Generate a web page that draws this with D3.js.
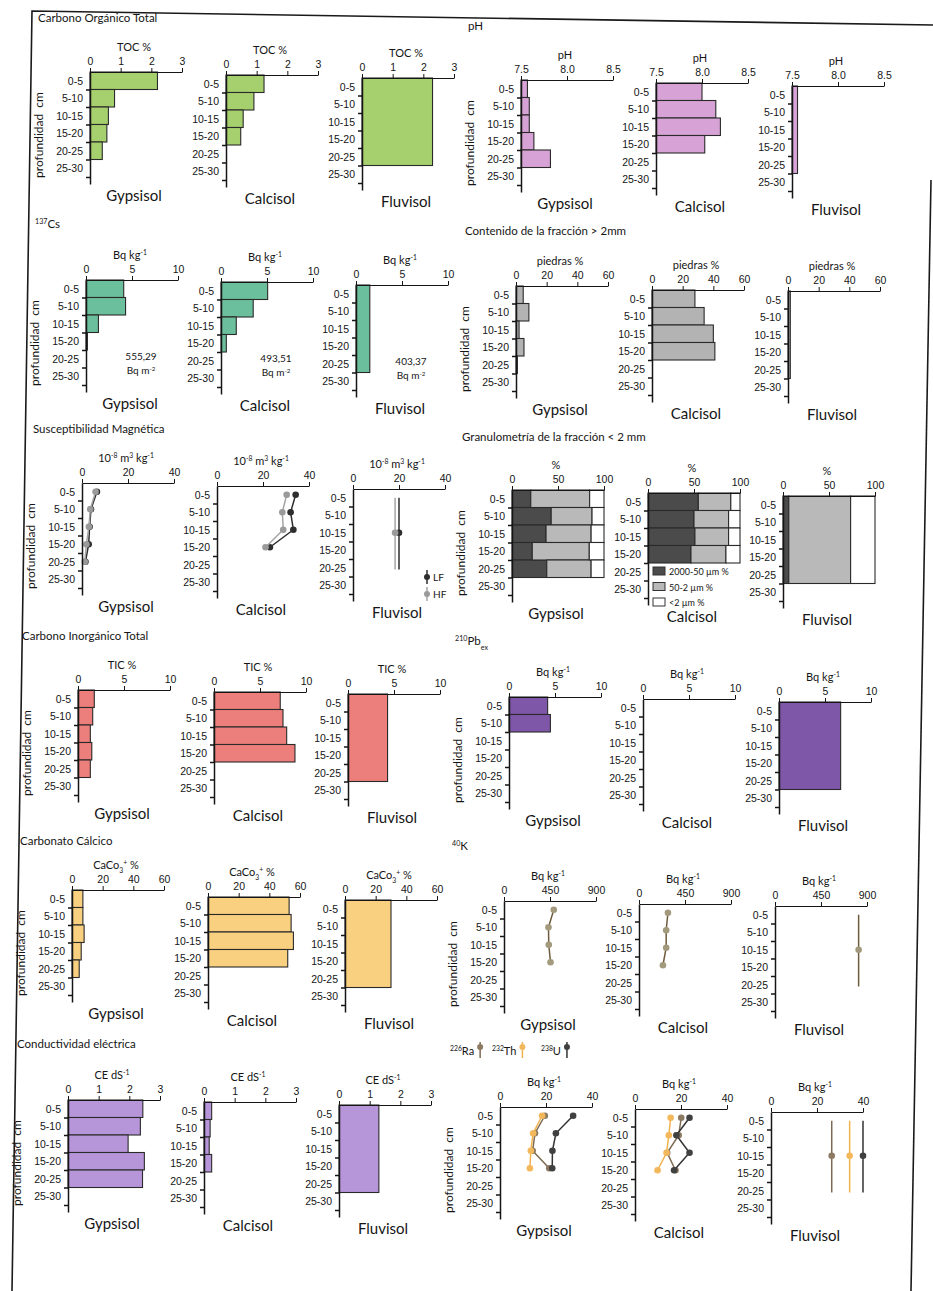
<!DOCTYPE html>
<html>
<head>
<meta charset="utf-8">
<script src="https://cdn.jsdelivr.net/npm/d3@7"></script>
<style>
  body { margin: 0; background: #fff; }
  svg { display: block; font-family: Lato, "Open Sans", sans-serif; }
</style>
</head>
<body>
<svg id="fig" width="933" height="1291"></svg>
<script>
// ---- shared categories
const soils = ["Gypsisol", "Calcisol", "Fluvisol"];
const depthLabels = ["0-5", "5-10", "10-15", "15-20", "20-25", "25-30"];
const depthBreaks = [0, 5, 10, 15, 20, 25, 30];
const fluvisolSpan = [0, 25];     // Fluvisol is one composite sample 0-25 cm
const fluvisolPoint = 12.5;
const fluvisolRange = [2.5, 23];

// ---- Carbono Orgánico Total (TOC %)
const tocTicks = [0, 1, 2, 3];
const tocGyp = [2.2, 0.8, 0.6, 0.55, 0.4];
const tocCal = [1.24, 0.91, 0.56, 0.48];
const tocFlu = [2.3];

// ---- pH
const phTicks = [7.5, 8.0, 8.5];
const phGyp = [7.57, 7.59, 7.59, 7.64, 7.82];
const phCal = [8.0, 8.15, 8.2, 8.03];
const phFlu = [7.56];

// ---- 137Cs (Bq kg-1) and inventory
const csTicks = [0, 5, 10];
const csGyp = [4.1, 4.3, 1.35, 0.15];
const csCal = [5.07, 3.5, 1.66, 0.58];
const csFlu = [1.5];
const csInventory = ["555,29", "493,51", "403,37"];

// ---- piedras % (> 2 mm)
const stoneTicks = [0, 20, 40, 60];
const stoneGyp = [4.7, 8.4, 2, 5.2, 0.9];
const stoneCal = [28, 34, 40, 41];
const stoneFlu = [1.5];

// ---- Susceptibilidad magnética (LF / HF)
const msTicks = [0, 20, 40];
const msLfGyp = [6.5, 3.9, 3.3, 2.9, 1.5];
const msHfGyp = [5.9, 3.6, 3.0, 1.9, 1.2];
const msLfCal = [34.2, 32, 33.2, 23];
const msHfCal = [30.3, 28.4, 28.8, 21.1];
const msLfFlu = [20];
const msHfFlu = [18.3];

// ---- Granulometría (< 2 mm)
const grainTicks = [0, 50, 100];
const grainClasses = ["2000-50 µm %", "50-2 µm %", "<2 µm %"];
const sandGyp = [20.4, 42.6, 37, 22, 37.8];
const siltGyp = [64, 44.4, 49, 62, 48.2];
const clayGyp = [15.6, 13, 14, 16, 14];
const sandCal = [54.7, 50, 51, 46.7];
const siltCal = [35.3, 37.6, 36.6, 38];
const clayCal = [10, 12.4, 12.4, 15.3];
const sandFlu = [6.3];
const siltFlu = [67.2];
const clayFlu = [26.5];

// ---- Carbono Inorgánico Total (TIC %)
const ticTicks = [0, 5, 10];
const ticGyp = [1.77, 1.6, 1.34, 1.5, 1.34];
const ticCal = [7.2, 7.5, 7.9, 8.8];
const ticFlu = [4.3];

// ---- 210Pb ex
const pbTicks = [0, 5, 10];
const pbGyp = [4.2, 4.5];
const pbCal = [];
const pbFlu = [6.7];

// ---- Carbonato cálcico
const caTicks = [0, 20, 40, 60];
const caGyp = [7.1, 7.1, 7.9, 6, 4.7];
const caCal = [52.9, 54.2, 55.7, 52];
const caFlu = [30];

// ---- 40K
const kTicks = [0, 450, 900];
const kGyp = [487, 435, 438, 455];
const kCal = [283, 266, 266, 234];
const kFlu = [818];

// ---- Conductividad eléctrica
const ceTicks = [0, 1, 2, 3];
const ceGyp = [2.44, 2.36, 1.96, 2.49, 2.43];
const ceCal = [0.25, 0.2, 0.17, 0.25];
const ceFlu = [1.3];

// ---- 226Ra / 232Th / 238U
const radTicks = [0, 20, 40];
const raGyp = [19.5, 15.2, 14.2, 21.4];
const thGyp = [18.3, 14.4, 13.4, 13];
const uGyp = [31.8, 24.3, 22.8, 22.7];
const raCal = [20.1, 19, 14, 17.6];
const thCal = [15.5, 14.7, 13.7, 9.8];
const uCal = [23.7, 18, 23.7, 17];
const raFlu = [26.4];
const thFlu = [34.2];
const uFlu = [40];

// ---- styles
const ink = "#151515";
const msColors = [{ pt: "#2e2e2e", ln: "#2e2e2e" }, { pt: "#9a9a9a", ln: "#a5a5a5" }];
const kColors = [{ pt: "#a39a7e", ln: "#6f5b3e" }];
const radColors = [{ pt: "#8d7a62", ln: "#7d6a52" }, { pt: "#f3b85c", ln: "#f1b24c" }, { pt: "#404040", ln: "#333" }];
const grainColors = ["#4b4b4b", "#b9b9b9", "#ffffff"];

const groups = [
  { title: [["Carbono Orgánico Total"]], tpos: [38, 22], label: [["TOC %"]], domain: [0, 3], ticks: tocTicks,
    kind: "bar", fill: "#a6d06e", data: [tocGyp, tocCal, tocFlu], pos: [[90, 72], [226, 75], [362, 78]] },
  { title: [["pH"]], tpos: [468, 30], label: [["pH"]], domain: [7.5, 8.5], ticks: phTicks, fmt: ".1f",
    kind: "bar", fill: "#d7a3d6", data: [phGyp, phCal, phFlu], pos: [[521, 80], [656, 83], [792, 86]] },
  { title: [["137", "sup"], ["Cs"]], tpos: [35, 228], label: [["Bq kg"], ["-1", "sup"]], domain: [0, 10], ticks: csTicks,
    kind: "bar", fill: "#6cbf9c", data: [csGyp, csCal, csFlu], pos: [[86, 280], [221, 282], [356, 285]], notes: csInventory },
  { title: [["Contenido de la fracción > 2mm"]], tpos: [465, 235], label: [["piedras %"]], domain: [0, 60], ticks: stoneTicks,
    kind: "bar", fill: "#b3b3b3", data: [stoneGyp, stoneCal, stoneFlu], pos: [[516, 286], [652, 290], [788, 291]] },
  { title: [["Susceptibilidad Magnética"]], tpos: [33, 433],
    label: [["10"], ["-8", "sup"], [" m"], ["3", "sup"], [" kg"], ["-1", "sup"]], domain: [0, 40], ticks: msTicks,
    kind: "points", colors: msColors, data: [[msLfGyp, msHfGyp], [msLfCal, msHfCal], [msLfFlu, msHfFlu]],
    pos: [[82, 483], [217, 486], [353, 489]], legend: "ms" },
  { title: [["Granulometría de la fracción < 2 mm"]], tpos: [462, 441], label: [["%"]], domain: [0, 100], ticks: grainTicks,
    kind: "stack", colors: grainColors, data: [[sandGyp, siltGyp, clayGyp], [sandCal, siltCal, clayCal], [sandFlu, siltFlu, clayFlu]],
    pos: [[512, 490], [648, 493], [783, 496]], legend: "grain" },
  { title: [["Carbono Inorgánico Total"]], tpos: [22, 640], label: [["TIC  %"]], domain: [0, 10], ticks: ticTicks,
    kind: "bar", fill: "#ec7f7b", data: [ticGyp, ticCal, ticFlu], pos: [[78, 690], [214, 692], [348, 694]] },
  { title: [["210", "sup"], ["Pb"], ["ex", "sub"]], tpos: [455, 645], label: [["Bq kg"], ["-1", "sup"]], domain: [0, 10], ticks: pbTicks,
    kind: "bar", fill: "#7e57a8", data: [pbGyp, pbCal, pbFlu], pos: [[509, 697], [643, 699], [779, 702]] },
  { title: [["Carbonato Cálcico"]], tpos: [20, 845], label: [["CaCo"], ["3", "sub"], ["+", "sup"], [" %"]], domain: [0, 60], ticks: caTicks,
    kind: "bar", fill: "#f9d080", data: [caGyp, caCal, caFlu], pos: [[72, 890], [208, 897], [345, 900]] },
  { title: [["40", "sup"], ["K"]], tpos: [452, 850], label: [["Bq kg"], ["-1", "sup"]], domain: [0, 900], ticks: kTicks,
    kind: "points", colors: kColors, data: [[kGyp], [kCal], [kFlu]], pos: [[504, 901], [639, 904], [775, 906]] },
  { title: [["Conductividad eléctrica"]], tpos: [17, 1048], label: [["CE  dS"], ["-1", "sup"]], domain: [0, 3], ticks: ceTicks,
    kind: "bar", fill: "#b795d9", data: [ceGyp, ceCal, ceFlu], pos: [[68, 1100], [204, 1102], [339, 1105]] },
  { title: null, label: [["Bq kg"], ["-1", "sup"]], domain: [0, 40], ticks: radTicks,
    kind: "points", colors: radColors, data: [[raGyp, thGyp, uGyp], [raCal, thCal, uCal], [raFlu, thFlu, uFlu]],
    pos: [[500, 1107], [635, 1109], [771, 1112]], legend: "rad" }
];

const plotW = 92;
const svg = d3.select("#fig");

// scanned page edges
svg.append("path").attr("d", "M933,25 L32,11 L12,1291")
  .attr("fill", "none").attr("stroke", "#1a1a1a").attr("stroke-width", 1.6);
svg.append("path").attr("d", "M931,180 L911,1291")
  .attr("fill", "none").attr("stroke", "#1a1a1a").attr("stroke-width", 1.6);

function rich(sel, parts) {
  parts.forEach(p => {
    const t = sel.append("tspan").text(p[0]);
    if (p[1] === "sup") t.attr("baseline-shift", "super").attr("font-size", "0.62em");
    if (p[1] === "sub") t.attr("baseline-shift", "sub").attr("font-size", "0.62em");
  });
  return sel;
}

function spans(values, i) {
  if (i === 2) return values.map(() => fluvisolSpan);
  return values.map((_, k) => [depthBreaks[k], depthBreaks[k + 1]]);
}

function mids(values, i) {
  if (i === 2) return values.map(() => fluvisolPoint);
  return values.map((_, k) => (depthBreaks[k] + depthBreaks[k + 1]) / 2);
}

function drawPlot(grp, i) {
  const [x0, top] = grp.pos[i];
  const g = svg.append("g");
  const x = d3.scaleLinear().domain(grp.domain).range([x0, x0 + plotW]);
  const y = d3.scaleLinear().domain([0, 32]).range([top, top + 112]);

  if (grp.kind === "bar") {
    const vals = grp.data[i];
    const sp = spans(vals, i);
    g.selectAll("rect.bar").data(vals).join("rect").attr("class", "bar")
      .attr("x", x(grp.domain[0]))
      .attr("y", (d, k) => y(sp[k][0]))
      .attr("width", d => x(d) - x(grp.domain[0]))
      .attr("height", (d, k) => y(sp[k][1]) - y(sp[k][0]))
      .attr("fill", grp.fill).attr("stroke", "#2a2a2a").attr("stroke-width", 1.1);
  }

  if (grp.kind === "stack") {
    const cols = grp.data[i];
    const sp = spans(cols[0], i);
    const rows = cols[0].map((_, k) => ({ sand: cols[0][k], silt: cols[1][k], clay: cols[2][k], d0: sp[k][0], d1: sp[k][1] }));
    const layers = d3.stack().keys(["sand", "silt", "clay"])(rows);
    layers.forEach((layer, li) => {
      g.selectAll(null).data(layer).join("rect")
        .attr("x", d => x(d[0]))
        .attr("width", d => x(d[1]) - x(d[0]))
        .attr("y", d => y(d.data.d0))
        .attr("height", d => y(d.data.d1) - y(d.data.d0))
        .attr("fill", grp.colors[li]).attr("stroke", "#2a2a2a").attr("stroke-width", 1.1);
    });
  }

  if (grp.kind === "points") {
    grp.data[i].forEach((vals, si) => {
      const col = grp.colors[si];
      const m = mids(vals, i);
      if (i === 2) {
        g.append("line")
          .attr("x1", x(vals[0])).attr("x2", x(vals[0]))
          .attr("y1", y(fluvisolRange[0])).attr("y2", y(fluvisolRange[1]))
          .attr("stroke", col.ln).attr("stroke-width", 1.5);
      } else {
        g.append("path")
          .attr("d", d3.line().x(d => x(d)).y((d, k) => y(m[k]))(vals))
          .attr("fill", "none").attr("stroke", col.ln).attr("stroke-width", 1.5);
      }
      g.selectAll(null).data(vals).join("circle")
        .attr("cx", d => x(d)).attr("cy", (d, k) => y(m[k]))
        .attr("r", 3.3).attr("fill", col.pt);
    });
  }

  // top value axis
  const fmt = grp.fmt ? d3.format(grp.fmt) : d3.format("d");
  const ax = g.append("g").attr("transform", `translate(0,${top})`)
    .call(d3.axisTop(x).tickValues(grp.ticks).tickSize(4).tickSizeOuter(0).tickPadding(3).tickFormat(fmt));
  ax.selectAll("text").attr("font-size", 10.5).attr("fill", ink);
  ax.selectAll("line,path").attr("stroke", ink);

  // depth axis
  const ay = g.append("g").attr("transform", `translate(${x(grp.domain[0])},0)`)
    .call(d3.axisLeft(y).tickValues(depthBreaks.slice(1)).tickSize(4).tickSizeOuter(0).tickFormat(""));
  ay.selectAll("line,path").attr("stroke", ink).attr("stroke-width", 1.5);

  const al = g.append("g").attr("transform", `translate(${x(grp.domain[0])},0)`)
    .call(d3.axisLeft(y).tickValues(depthLabels.map((_, k) => (depthBreaks[k] + depthBreaks[k + 1]) / 2))
      .tickSize(0).tickPadding(7).tickFormat((d, k) => depthLabels[k]));
  al.select(".domain").remove();
  al.selectAll("text").attr("font-size", 10.5).attr("fill", ink);

  // axis title
  rich(g.append("text").attr("x", x0 + plotW / 2 - 2).attr("y", top - 21)
    .attr("text-anchor", "middle").attr("font-size", 11).attr("fill", ink), grp.label);

  // soil name
  g.append("text").attr("x", x0 + 44).attr("y", top + 129)
    .attr("text-anchor", "middle").attr("font-size", 15).attr("fill", ink).text(soils[i]);

  if (i === 0) {
    g.append("text")
      .attr("transform", `translate(${x0 - 47},${top + 63}) rotate(-90)`)
      .attr("text-anchor", "middle").attr("font-size", 12).attr("fill", ink)
      .attr("xml:space", "preserve").text("profundidad  cm");
  }

  if (grp.notes) {
    g.append("text").attr("x", x0 + 55).attr("y", top + 80)
      .attr("text-anchor", "middle").attr("font-size", 10).attr("fill", ink).text(grp.notes[i]);
    rich(g.append("text").attr("x", x0 + 55).attr("y", top + 94)
      .attr("text-anchor", "middle").attr("font-size", 10).attr("fill", ink), [["Bq m"], ["-2", "sup"]]);
  }

  if (grp.legend === "ms" && i === 2) {
    ["LF", "HF"].forEach((name, k) => {
      const lx = x0 + 74, ly = top + 88 + k * 17;
      g.append("line").attr("x1", lx).attr("x2", lx).attr("y1", ly - 7).attr("y2", ly + 7)
        .attr("stroke", grp.colors[k].ln).attr("stroke-width", 1.5);
      g.append("circle").attr("cx", lx).attr("cy", ly).attr("r", 3).attr("fill", grp.colors[k].pt);
      g.append("text").attr("x", lx + 6).attr("y", ly + 4).attr("font-size", 10).attr("fill", ink).text(name);
    });
  }

  if (grp.legend === "grain" && i === 1) {
    grainClasses.forEach((name, k) => {
      const ly = top + 74 + k * 15.5;
      g.append("rect").attr("x", x0 + 5).attr("y", ly).attr("width", 12).attr("height", 8)
        .attr("fill", grp.colors[k]).attr("stroke", "#333");
      g.append("text").attr("x", x0 + 21).attr("y", ly + 8).attr("font-size", 9).attr("fill", ink).text(name);
    });
  }
}

groups.forEach(grp => {
  if (grp.title) {
    rich(svg.append("text").attr("x", grp.tpos[0]).attr("y", grp.tpos[1])
      .attr("font-size", 11.5).attr("fill", ink), grp.title);
  }
  [0, 1, 2].forEach(i => drawPlot(grp, i));
});

// isotope legend for the last panel
const radNames = [[["226", "sup"], ["Ra"]], [["232", "sup"], ["Th"]], [["238", "sup"], ["U"]]];
const radLegendX = [450, 492, 541];
radNames.forEach((name, k) => {
  const t = rich(svg.append("text").attr("x", radLegendX[k]).attr("y", 1055)
    .attr("font-size", 11).attr("fill", ink), name);
  const w = t.node().getComputedTextLength();
  const mx = radLegendX[k] + w + 6;
  svg.append("line").attr("x1", mx).attr("x2", mx).attr("y1", 1042).attr("y2", 1058)
    .attr("stroke", radColors[k].ln).attr("stroke-width", 1.5);
  svg.append("circle").attr("cx", mx).attr("cy", 1047).attr("r", 3).attr("fill", radColors[k].pt);
});
</script>
</body>
</html>
